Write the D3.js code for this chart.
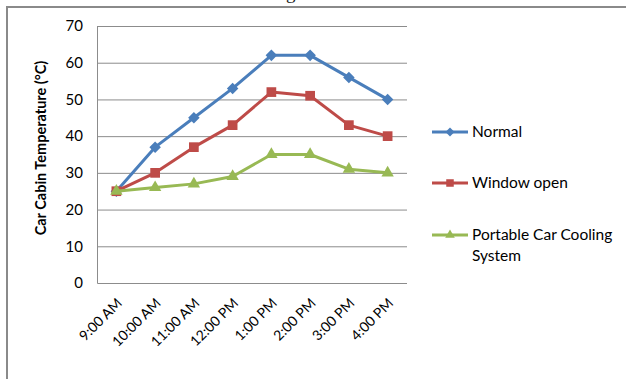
<!DOCTYPE html>
<html>
<head>
<meta charset="utf-8">
<script src="https://cdn.jsdelivr.net/npm/d3@7"></script>
<style>
  body { margin: 0; background: #fff; }
  svg { display: block; }
</style>
</head>
<body>
<div id="chart"></div>
<script>
var times = ["9:00 AM", "10:00 AM", "11:00 AM", "12:00 PM", "1:00 PM", "2:00 PM", "3:00 PM", "4:00 PM"];
var normal = [25, 37, 45, 53, 62, 62, 56, 50];
var windowOpen = [25, 30, 37, 43, 52, 51, 43, 40];
var portable = [25, 26, 27, 29, 35, 35, 31, 30];
var yTicks = [0, 10, 20, 30, 40, 50, 60, 70];

var series = [
  { name: ["Normal"], values: normal, color: "#4a7ebb", shape: d3.symbolDiamond2, size: 85 },
  { name: ["Window open"], values: windowOpen, color: "#be4b48", shape: d3.symbolSquare2, size: 120 },
  { name: ["Portable Car Cooling", "System"], values: portable, color: "#98b954", shape: d3.symbolTriangle2, size: 110 }
];

var width = 626, height = 379;
var font = "Lato, 'Open Sans', sans-serif";

var svg = d3.select("#chart").append("svg")
    .attr("width", width)
    .attr("height", height);

// cut-off line of document text above the figure
svg.append("text")
    .attr("x", 2)
    .attr("y", -1)
    .attr("font-family", "'Liberation Serif', serif")
    .attr("font-size", 19)
    .attr("fill", "#222")
    .text("The results are shown below with diagram form.");

// frame
svg.append("path")
    .attr("d", "M7,379V7H626")
    .attr("fill", "none")
    .attr("stroke", "#8a8a8a")
    .attr("stroke-width", 2);

var plot = { left: 97, right: 407, top: 26, bottom: 283 };

var x = d3.scalePoint()
    .domain(times)
    .range([plot.left, plot.right])
    .padding(0.5);

var y = d3.scaleLinear()
    .domain([0, 70])
    .range([plot.bottom, plot.top]);

// gridlines
svg.append("g")
  .selectAll("line")
  .data(yTicks.filter(function(d) { return d > 0; }))
  .enter().append("line")
    .attr("x1", plot.left)
    .attr("x2", plot.right)
    .attr("y1", function(d) { return y(d) + 0.5; })
    .attr("y2", function(d) { return y(d) + 0.5; })
    .attr("stroke", "#8c8c8c")
    .attr("stroke-width", 1);

// axes lines
svg.append("path")
    .attr("d", "M" + (plot.left + 0.5) + "," + plot.top + "V" + (plot.bottom + 0.5) + "H" + plot.right)
    .attr("fill", "none")
    .attr("stroke", "#8c8c8c");

var yAxis = svg.append("g")
    .attr("transform", "translate(" + plot.left + ",0)")
    .call(d3.axisLeft(y).tickValues(yTicks).tickSize(0).tickPadding(14));
yAxis.select(".domain").remove();
yAxis.selectAll("text")
    .attr("font-family", font)
    .attr("font-size", 15)
    .attr("fill", "#000");

var xAxis = svg.append("g")
    .attr("transform", "translate(0," + plot.bottom + ")")
    .call(d3.axisBottom(x).tickSize(0));
xAxis.select(".domain").remove();
xAxis.selectAll("text")
    .attr("font-family", font)
    .attr("font-size", 14)
    .attr("fill", "#000")
    .attr("text-anchor", "end")
    .attr("dy", 0)
    .attr("y", 0)
    .attr("transform", "translate(6,21) rotate(-45)");

svg.append("text")
    .attr("transform", "translate(46,148) rotate(-90)")
    .attr("text-anchor", "middle")
    .attr("font-family", font)
    .attr("font-size", 14.5)
    .attr("font-weight", "bold")
    .text("Car Cabin Temperature (\u00B0C)");

var line = d3.line()
    .x(function(d, i) { return x(times[i]); })
    .y(function(d) { return y(d); });

series.forEach(function(s) {
  svg.append("path")
      .datum(s.values)
      .attr("d", line)
      .attr("fill", "none")
      .attr("stroke", s.color)
      .attr("stroke-width", 3)
      .attr("stroke-linejoin", "round");

  svg.append("g")
    .selectAll("path")
    .data(s.values)
    .enter().append("path")
      .attr("transform", function(d, i) { return "translate(" + x(times[i]) + "," + y(d) + ")"; })
      .attr("d", d3.symbol().type(s.shape).size(s.size))
      .attr("fill", s.color);
});

// legend
var legendY = [132, 183, 235];
var legend = svg.append("g");
series.forEach(function(s, i) {
  var g = legend.append("g").attr("transform", "translate(0," + legendY[i] + ")");
  g.append("line")
      .attr("x1", 432).attr("x2", 468)
      .attr("stroke", s.color)
      .attr("stroke-width", 3);
  g.append("path")
      .attr("transform", "translate(450,0)")
      .attr("d", d3.symbol().type(s.shape).size(s.size * 0.6))
      .attr("fill", s.color);
  g.selectAll("text")
    .data(s.name)
    .enter().append("text")
      .attr("x", 472)
      .attr("y", function(d, j) { return j * 21 + 5; })
      .attr("font-family", font)
      .attr("font-size", 15.5)
      .attr("fill", "#000")
      .text(function(d) { return d; });
});
</script>
</body>
</html>
